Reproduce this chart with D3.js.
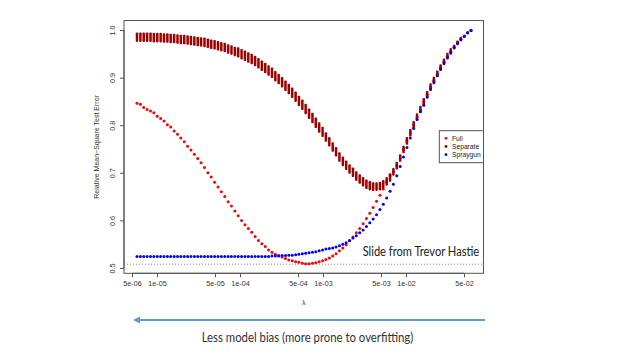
<!DOCTYPE html>
<html><head><meta charset="utf-8">
<script src="https://cdnjs.cloudflare.com/ajax/libs/d3/7.8.5/d3.min.js"></script>
<style>html,body{margin:0;padding:0;background:#fff;}</style>
</head><body>
<svg id="c" width="640" height="360"></svg>
<script>
// log10(lambda) grid
const logLambda = [-5.241,-5.200,-5.160,-5.119,-5.078,-5.038,-4.997,-4.956,-4.916,-4.875,
-4.835,-4.794,-4.753,-4.713,-4.672,-4.631,-4.591,-4.550,-4.509,-4.469,
-4.428,-4.387,-4.347,-4.306,-4.265,-4.225,-4.184,-4.143,-4.103,-4.062,
-4.022,-3.981,-3.940,-3.900,-3.859,-3.818,-3.778,-3.737,-3.696,-3.656,
-3.615,-3.574,-3.534,-3.493,-3.452,-3.412,-3.371,-3.330,-3.290,-3.249,
-3.209,-3.168,-3.127,-3.087,-3.046,-3.005,-2.965,-2.924,-2.883,-2.843,
-2.802,-2.761,-2.721,-2.680,-2.639,-2.599,-2.558,-2.517,-2.477,-2.436,
-2.396,-2.355,-2.314,-2.274,-2.233,-2.192,-2.152,-2.111,-2.070,-2.030,
-1.989,-1.948,-1.908,-1.867,-1.826,-1.786,-1.745,-1.704,-1.664,-1.623,
-1.583,-1.542,-1.501,-1.461,-1.420,-1.379,-1.339,-1.298,-1.257,-1.217];

const fullErr = [0.846,0.844,0.837,0.833,0.830,0.826,0.819,0.814,0.809,0.801,
0.796,0.788,0.781,0.773,0.765,0.756,0.748,0.739,0.730,0.721,
0.711,0.700,0.691,0.680,0.670,0.660,0.650,0.639,0.630,0.620,
0.610,0.600,0.591,0.583,0.575,0.566,0.558,0.551,0.545,0.538,
0.533,0.529,0.526,0.523,0.520,0.517,0.515,0.513,0.512,0.510,
0.509,0.509,0.510,0.511,0.513,0.515,0.518,0.521,0.525,0.530,
0.536,0.542,0.549,0.557,0.565,0.574,0.583,0.593,0.604,0.615,
0.627,0.640,0.653,0.666,0.681,0.694,0.702,0.715,0.731,0.749,
0.767,0.784,0.801,0.817,0.833,0.849,0.864,0.880,0.894,0.908,
0.921,0.933,0.945,0.955,0.964,0.973,0.981,0.987,0.994,0.999];

const separateMid = [0.985,0.985,0.985,0.985,0.985,0.984,0.984,0.984,0.983,0.983,
0.982,0.982,0.981,0.980,0.980,0.979,0.978,0.977,0.976,0.975,
0.974,0.972,0.970,0.969,0.967,0.965,0.963,0.960,0.958,0.955,
0.953,0.949,0.946,0.942,0.939,0.935,0.930,0.925,0.920,0.915,
0.910,0.903,0.897,0.890,0.883,0.876,0.868,0.860,0.851,0.843,
0.834,0.824,0.815,0.805,0.795,0.786,0.775,0.765,0.754,0.744,
0.733,0.724,0.716,0.708,0.701,0.693,0.687,0.681,0.676,0.673,
0.671,0.671,0.672,0.676,0.682,0.690,0.702,0.715,0.731,0.749,
0.767,0.784,0.801,0.817,0.833,0.849,0.864,0.880,0.894,0.908,
0.921,0.933,0.945,0.955,0.964,0.973,0.981,0.987,0.994,0.999];

const separateSpread = [0.010,0.010,0.010,0.010,0.010,0.010,0.010,0.010,0.010,0.010,
0.010,0.010,0.010,0.010,0.010,0.010,0.010,0.010,0.010,0.010,
0.010,0.010,0.010,0.010,0.010,0.010,0.010,0.010,0.010,0.010,
0.011,0.011,0.011,0.011,0.011,0.011,0.011,0.011,0.011,0.011,
0.011,0.011,0.011,0.011,0.011,0.011,0.011,0.011,0.011,0.011,
0.011,0.011,0.011,0.011,0.011,0.011,0.010,0.010,0.010,0.010,
0.010,0.010,0.010,0.010,0.010,0.010,0.010,0.010,0.010,0.010,
0.009,0.009,0.009,0.009,0.009,0.009,0.008,0.008,0.008,0.008,
0.008,0.008,0.008,0.008,0.008,0.008,0.008,0.008,0.008,0.007,
0.007,0.007,0.007,0.007,0.005,0.005,0.005,0.003,0.003,0.003];

const sprayErr = [0.524,0.524,0.524,0.524,0.524,0.524,0.524,0.524,0.524,0.524,
0.524,0.524,0.524,0.524,0.524,0.524,0.524,0.524,0.524,0.524,
0.524,0.524,0.524,0.524,0.524,0.524,0.524,0.524,0.524,0.524,
0.524,0.524,0.524,0.524,0.524,0.524,0.524,0.524,0.524,0.524,
0.525,0.525,0.525,0.526,0.526,0.527,0.527,0.528,0.529,0.530,
0.531,0.532,0.533,0.534,0.536,0.538,0.540,0.541,0.542,0.544,
0.547,0.550,0.553,0.558,0.563,0.568,0.574,0.580,0.587,0.595,
0.603,0.612,0.623,0.634,0.647,0.661,0.676,0.694,0.713,0.733,
0.753,0.773,0.793,0.812,0.829,0.842,0.859,0.876,0.891,0.904,
0.918,0.931,0.942,0.953,0.963,0.972,0.980,0.987,0.994,0.999];

const xTicks = [5e-6,1e-5,5e-5,1e-4,5e-4,1e-3,5e-3,1e-2,5e-2];
const xTickLabels = ["5e-06","1e-05","5e-05","1e-04","5e-04","1e-03","5e-03","1e-02","5e-02"];
const yTicks = [0.5,0.6,0.7,0.8,0.9,1.0];
const yTickLabels = ["0.5","0.6","0.7","0.8","0.9","1.0"];
const refLevel = 0.508;
const seriesNames = ["Full","Separate","Spraygun"];
const seriesColors = ["#ff0000","#a00000","#0000ff"];
const yTitle = "Relative Mean\u2212Square Test Error";
const xTitle = "\u03bb";
const note = "Slide from Trevor Hastie";
const arrowText = "Less model bias (more prone to overfitting)";

const svg = d3.select("#c");
svg.append("rect").attr("width",640).attr("height",360).attr("fill","#fff");

const box = {l:124, r:483.5, t:20.5, b:273.3};
const x = d3.scaleLog().domain([1e-5,1e-2]).range([157,406]);
const y = d3.scaleLinear().domain([0.5,1.0]).range([268,30]);
const lam = logLambda.map(v => Math.pow(10, v));

const axisFont = "Liberation Sans, Arial, sans-serif";

// reference dotted line
svg.append("line").attr("x1",box.l).attr("x2",box.r)
  .attr("y1",y(refLevel)).attr("y2",y(refLevel))
  .attr("stroke","#8a8a8a").attr("stroke-width",1).attr("stroke-dasharray","1,2");

// Full
svg.append("g").selectAll("circle").data(fullErr).join("circle")
  .attr("cx",(d,i)=>x(lam[i])).attr("cy",d=>y(d)).attr("r",1.5)
  .attr("fill",seriesColors[0]);

// Separate (stacked fits shown as vertical columns)
svg.append("g").selectAll("rect").data(separateMid).join("rect")
  .attr("x",(d,i)=>x(lam[i])-1.25).attr("width",2.5)
  .attr("y",(d,i)=>y(d+separateSpread[i]))
  .attr("height",(d,i)=>y(d-separateSpread[i])-y(d+separateSpread[i]))
  .attr("rx",0.8)
  .attr("fill",seriesColors[1]);

// Spraygun
svg.append("g").selectAll("circle").data(sprayErr).join("circle")
  .attr("cx",(d,i)=>x(lam[i])).attr("cy",d=>y(d)).attr("r",1.5)
  .attr("fill",seriesColors[2]);

// box
svg.append("rect").attr("x",box.l).attr("y",box.t)
  .attr("width",box.r-box.l).attr("height",box.b-box.t)
  .attr("fill","none").attr("stroke","#555").attr("stroke-width",1);

// x axis
const xAxis = d3.axisBottom(x).tickValues(xTicks)
  .tickFormat((d,i)=>xTickLabels[i]).tickSize(4).tickPadding(4);
const gx = svg.append("g").attr("transform",`translate(0,${box.b})`).call(xAxis);
gx.select(".domain").attr("stroke","#555").attr("d",`M${x(xTicks[0])},0H${x(xTicks[xTicks.length-1])}`);
gx.selectAll(".tick line").attr("stroke","#555");
gx.selectAll("text").attr("font-family",axisFont).attr("font-size",7.2).attr("fill","#333");

// y axis
const yAxis = d3.axisLeft(y).tickValues(yTicks)
  .tickFormat((d,i)=>yTickLabels[i]).tickSize(4).tickPadding(0);
const gy = svg.append("g").attr("transform",`translate(${box.l},0)`).call(yAxis);
gy.select(".domain").attr("stroke","#555").attr("d",`M0,${y(0.5)}V${y(1.0)}`);
gy.selectAll(".tick line").attr("stroke","#555");
gy.selectAll("text").attr("font-family",axisFont).attr("font-size",7.2).attr("fill","#333")
  .attr("x",null).attr("dy",null)
  .attr("text-anchor","middle")
  .attr("transform","translate(-9.5,0) rotate(-90)");

// axis titles
svg.append("text").attr("transform",`translate(98.5,${(box.t+box.b)/2}) rotate(-90)`)
  .attr("text-anchor","middle").attr("font-family",axisFont).attr("font-size",7)
  .attr("fill","#333").text(yTitle);
svg.append("text").attr("x",(box.l+box.r)/2).attr("y",305)
  .attr("text-anchor","middle").attr("font-family",axisFont).attr("font-size",7)
  .attr("fill","#333").text(xTitle);

// legend
const lg = svg.append("g");
lg.append("rect").attr("x",439.3).attr("y",130.7).attr("width",44.2).attr("height",32)
  .attr("fill","#fff").attr("stroke","#555").attr("stroke-width",1);
seriesNames.forEach((n,i)=>{
  const cy = 138.3 + i*8.2;
  lg.append("circle").attr("cx",446).attr("cy",cy).attr("r",1.4).attr("fill",seriesColors[i]);
  lg.append("text").attr("x",452).attr("y",cy+2.4).attr("font-family",axisFont)
    .attr("font-size",6.7).attr("fill","#222").text(n);
});

// annotation
svg.append("text").attr("x",362.7).attr("y",256).attr("font-family","Lato, 'Open Sans', sans-serif")
  .attr("font-size",12.5).attr("fill","#222").attr("textLength",116.5)
  .attr("lengthAdjust","spacingAndGlyphs").text(note);

// arrow
const ac = "#5b9bd5";
svg.append("line").attr("x1",485).attr("x2",138).attr("y1",320).attr("y2",320)
  .attr("stroke",ac).attr("stroke-width",2);
svg.append("path").attr("d","M133,320L140,316.5L140,323.5Z").attr("fill",ac);
svg.append("text").attr("x",201.7).attr("y",341.7).attr("font-family","Lato, 'Open Sans', sans-serif")
  .attr("font-size",12.5).attr("fill","#333").attr("textLength",211.6)
  .attr("lengthAdjust","spacingAndGlyphs").text(arrowText);
</script>
</body></html>
